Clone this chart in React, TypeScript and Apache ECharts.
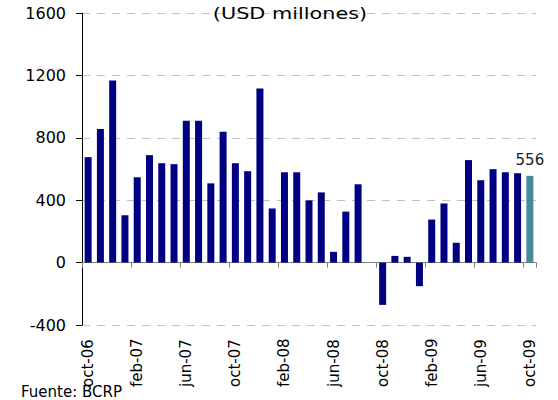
import React, { useEffect, useRef } from "react";
import * as echarts from "echarts";

const categories = [
  "oct-06", "nov-06", "dic-06", "ene-07", "feb-07", "mar-07", "abr-07", "may-07",
  "jun-07", "jul-07", "ago-07", "sep-07", "oct-07", "nov-07", "dic-07", "ene-08",
  "feb-08", "mar-08", "abr-08", "may-08", "jun-08", "jul-08", "ago-08", "sep-08",
  "oct-08", "nov-08", "dic-08", "ene-09", "feb-09", "mar-09", "abr-09", "may-09",
  "jun-09", "jul-09", "ago-09", "sep-09", "oct-09",
];

const values = [
  676, 857, 1167, 304, 547, 689, 637, 631,
  909, 909, 508, 838, 637, 586, 1116, 347,
  579, 579, 399, 450, 69, 327, 502, 0,
  -271, 43, 37, -151, 276, 379, 127, 657,
  528, 599, 579, 573, 556,
];

const highlightIndex = 36;
const yMin = -400;
const yMax = 1600;
const yStep = 400;
const titleText = "(USD millones)";
const sourceText = "Fuente: BCRP";

const NAVY = "#000080";
const TEAL = "#468B9B";
const FONT = "DejaVu Sans";

export default function App() {
  const ref = useRef<HTMLDivElement>(null);

  useEffect(() => {
    if (!ref.current) return;
    const chart = echarts.init(ref.current, undefined, { renderer: "svg" });
    const data = values.map((v, i) =>
      i === highlightIndex
        ? {
            value: v,
            itemStyle: { color: TEAL },
            label: {
              show: true,
              position: "top",
              distance: 8,
              fontFamily: FONT,
              fontSize: 15,
              color: "#222",
            },
          }
        : { value: v, itemStyle: { color: NAVY } }
    );
    chart.setOption({
      animation: false,
      backgroundColor: "#fff",
      grid: { left: 82, right: 22, top: 13, bottom: 75, containLabel: false },
      xAxis: [
        {
          type: "category",
          data: categories,
          position: "bottom",
          boundaryGap: true,
          axisLine: { show: true, onZero: true, lineStyle: { color: "#808080", width: 1 } },
          axisTick: { show: true, interval: 3, length: 5, lineStyle: { color: "#808080" } },
          axisLabel: { show: false },
          splitLine: { show: false },
        },
        {
          type: "category",
          data: categories,
          position: "bottom",
          boundaryGap: true,
          axisLine: { show: false, onZero: false },
          axisTick: { show: false },
          axisLabel: {
            show: true,
            interval: 3,
            rotate: 90,
            align: "left",
            verticalAlign: "middle",
            margin: 62,
            fontFamily: FONT,
            fontSize: 15,
            color: "#000",
          },
          splitLine: { show: false },
        },
      ],
      yAxis: {
        type: "value",
        min: yMin,
        max: yMax,
        interval: yStep,
        axisLine: { show: true, lineStyle: { color: "#000", width: 1 } },
        axisTick: { show: true, length: 6, lineStyle: { color: "#000" } },
        axisLabel: {
          fontFamily: FONT,
          fontSize: 16,
          color: "#000",
          margin: 16,
          formatter: (v: number) => String(v),
        },
        splitLine: { show: true, lineStyle: { color: "#c0c0c0", type: [8, 7], width: 1 } },
      },
      series: [
        {
          type: "bar",
          xAxisIndex: 0,
          data,
          barWidth: 7,
        },
      ],
      graphic: [
        {
          type: "text",
          x: 290,
          y: 13,
          scaleX: 1.3,
          z: 100,
          style: {
            text: titleText,
            fontFamily: FONT,
            fontSize: 16,
            fill: "#000",
            textAlign: "center",
            textVerticalAlign: "middle",
          },
        },
        {
          type: "text",
          x: 21,
          y: 392,
          z: 100,
          style: {
            text: sourceText,
            fontFamily: FONT,
            fontSize: 15,
            fill: "#000",
            textAlign: "left",
            textVerticalAlign: "middle",
          },
        },
      ],
    });
    return () => chart.dispose();
  }, []);

  return (
    <div
      ref={ref}
      style={{ position: "fixed", left: 0, top: 0, width: 558, height: 400 }}
    />
  );
}
